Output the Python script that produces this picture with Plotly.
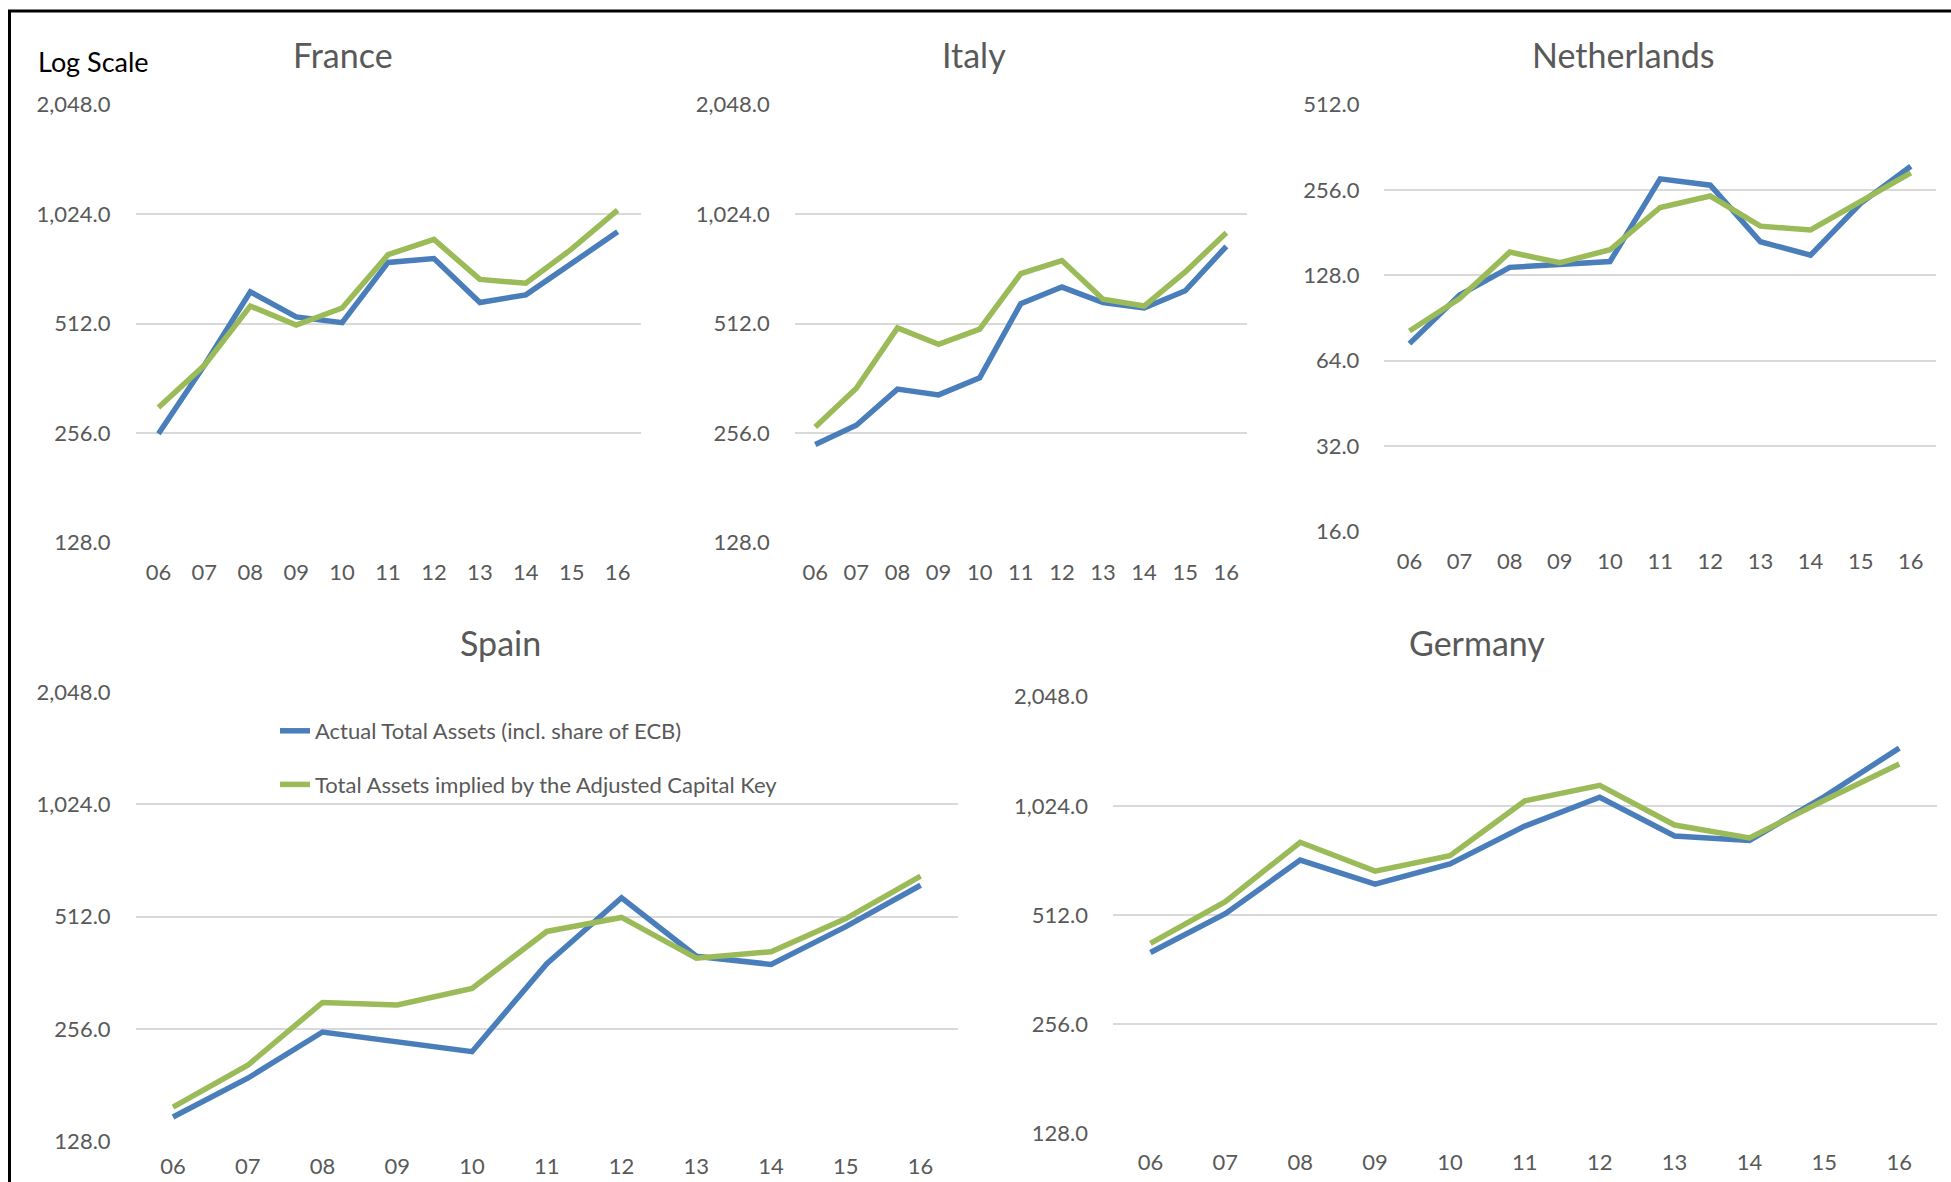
import math
import plotly.graph_objects as go

# ---------------------------------------------------------------- data
years = ["06", "07", "08", "09", "10", "11", "12", "13", "14", "15", "16"]

france_actual = [255, 393, 626, 534, 515, 754, 773, 585, 614, 751, 915]
france_implied = [301, 393, 572, 507, 565, 792, 872, 677, 661, 821, 1050]

italy_actual = [238, 269, 338, 326, 363, 581, 645, 585, 565, 630, 835]
italy_implied = [266, 340, 498, 449, 494, 702, 763, 597, 572, 710, 910]

netherlands_actual = [73.4, 109, 136.4, 139.9, 143, 280, 266, 168, 150.6, 229.6, 310]
netherlands_implied = [81.3, 105.8, 154.4, 141.6, 157.4, 221.9, 243.5, 190.6, 184.8, 233, 294]

spain_actual = [148.5, 188.7, 251, 235.4, 222.3, 382.8, 574.7, 400.6, 381, 480.9, 620.9]
spain_implied = [157.9, 204.4, 301.2, 296.5, 328.5, 466.9, 509, 396, 411.9, 505.6, 657]

germany_actual = [404, 517, 726, 623, 709, 901, 1082, 846, 822, 1087, 1478]
germany_implied = [428, 558, 813, 677, 747, 1057, 1167, 907, 836, 1062, 1336]

ticks_wide = [128, 256, 512, 1024, 2048]
ticks_wide_text = ["128.0", "256.0", "512.0", "1,024.0", "2,048.0"]
ticks_nl = [16, 32, 64, 128, 256, 512]
ticks_nl_text = ["16.0", "32.0", "64.0", "128.0", "256.0", "512.0"]

series_names = ["Actual Total Assets (incl. share of ECB)",
                "Total Assets implied by the Adjusted Capital Key"]

# ---------------------------------------------------------------- styling
W, H = 1951, 1182
FONT = "Lato"
GREY = "#595959"
BLUE = "#4A7EBB"
GREEN = "#9BBB59"
GRID = "#D9D9D9"


def px_x(x):
    return x / W


def px_y(y):
    return 1 - y / H


# panel: title, actual, implied, x-extent (px), y-extent (px), ticks, tick text,
#        title position (px), x tick-label standoff
panels = [
    ("France", france_actual, france_implied, (135.5, 640.6), (103.7, 543.4),
     ticks_wide, ticks_wide_text, (342.7, 54.7), 14),
    ("Italy", italy_actual, italy_implied, (794.7, 1246.9), (103.7, 543.4),
     ticks_wide, ticks_wide_text, (974.0, 54.7), 14),
    ("Netherlands", netherlands_actual, netherlands_implied, (1384.4, 1935.9), (103.7, 532.0),
     ticks_nl, ticks_nl_text, (1623.0, 54.7), 14),
    ("Spain", spain_actual, spain_implied, (135.6, 958.0), (691.0, 1142.0),
     ticks_wide, ticks_wide_text, (500.0, 642.7), 9),
    ("Germany", germany_actual, germany_implied, (1113.0, 1936.7), (695.8, 1134.5),
     ticks_wide, ticks_wide_text, (1476.5, 642.7), 12),
]

fig = go.Figure()
annotations = []

for i, (name, actual, implied, (x0, x1), (ytop, ybot), tv, tt, (tx, ty), standoff) in enumerate(panels):
    n = "" if i == 0 else str(i + 1)
    xa, ya = "x" + n, "y" + n

    for vals, label, color, grp in ((actual, series_names[0], BLUE, "actual"),
                                    (implied, series_names[1], GREEN, "implied")):
        fig.add_trace(go.Scatter(
            x=years, y=vals, mode="lines", name=label,
            line=dict(color=color, width=5.5),
            xaxis=xa, yaxis=ya,
            legendgroup=grp, showlegend=(name == "Spain"),
        ))

    lo, hi = math.log10(min(tv)), math.log10(max(tv))
    pad = (hi - lo) * 0.002
    fig.layout["xaxis" + n] = dict(
        domain=[px_x(x0), px_x(x1)], anchor=ya, type="category",
        range=[-0.5, len(years) - 0.5], showgrid=False, showline=False,
        zeroline=False, ticks="", ticklabelstandoff=standoff, automargin=False,
        tickfont=dict(family=FONT, size=22, color=GREY), fixedrange=True,
    )
    fig.layout["yaxis" + n] = dict(
        domain=[px_y(ybot), px_y(ytop)], anchor=xa, type="log",
        range=[lo - pad, hi + pad], tickvals=tv, ticktext=tt,
        showgrid=True, gridcolor=GRID, gridwidth=2, showline=False,
        zeroline=False, ticks="", ticklabelstandoff=24, automargin=False,
        tickfont=dict(family=FONT, size=22, color=GREY), fixedrange=True,
    )

    annotations.append(dict(
        text=name, x=px_x(tx), y=px_y(ty), xref="paper", yref="paper",
        xanchor="center", yanchor="middle", showarrow=False,
        font=dict(family=FONT, size=34, color=GREY),
    ))

annotations.append(dict(
    text="Log Scale", x=px_x(35.8), y=px_y(61.0), xref="paper", yref="paper",
    xanchor="left", yanchor="middle", showarrow=False,
    font=dict(family=FONT, size=27, color="#000000"),
))

fig.update_layout(
    width=W, height=H,
    margin=dict(l=0, r=0, t=0, b=0, pad=0, autoexpand=False),
    paper_bgcolor="white", plot_bgcolor="white",
    annotations=annotations,
    showlegend=True,
    legend=dict(
        x=px_x(275), y=px_y(710), xanchor="left", yanchor="top",
        bgcolor="rgba(0,0,0,0)", borderwidth=0,
        font=dict(family=FONT, size=22, color=GREY),
        traceorder="grouped", tracegroupgap=22, itemwidth=30,
    ),
    shapes=[dict(
        type="rect", xref="paper", yref="paper",
        x0=px_x(9.5), x1=1.02, y0=-0.02, y1=px_y(11.0),
        line=dict(color="black", width=3), fillcolor="rgba(0,0,0,0)",
    )],
)

fig.write_html("out.html")
